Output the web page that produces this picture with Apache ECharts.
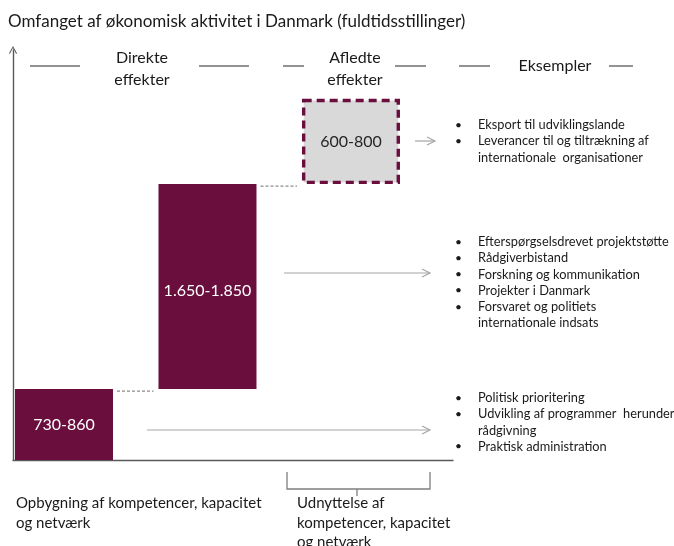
<!DOCTYPE html>
<html>
<head>
<meta charset="utf-8">
<script src="https://cdn.jsdelivr.net/npm/echarts@6/dist/echarts.min.js"></script>
<style>
  html, body { margin: 0; padding: 0; background: #fff; }
  #chart { width: 674px; height: 546px; }
</style>
</head>
<body>
<div id="chart"></div>
<script>
// trin i figuren (skematisk: højderne er aflæst fra billedet)
const stages = ['Opbygning', 'Direkte effekter', 'Afledte effekter'];
const rangeLabels = ['730-860', '1.650-1.850', '600-800'];
const stepHeights = [640, 1850, 770];

// eksempler til højre, et array pr. trin (\n = linjeskift i samme punkt)
const examplesAfledte = [
  'Eksport til udviklingslande',
  'Leverancer til og tiltrækning af\ninternationale  organisationer'
];
const examplesDirekte = [
  'Efterspørgselsdrevet projektstøtte',
  'Rådgiverbistand',
  'Forskning og kommunikation',
  'Projekter i Danmark',
  'Forsvaret og politiets\ninternationale indsats'
];
const examplesOpbygning = [
  'Politisk prioritering',
  'Udvikling af programmer  herunder\nrådgivning',
  'Praktisk administration'
];

const FONT = 'Lato, Carlito, "Noto Sans", sans-serif';
const BAR_COLOR = '#6a0f3d';
const BOX_FILL = '#d9d9d9';

// waterfall: hvert trin starter hvor det forrige slutter
let acc = 0;
const seriesData = stages.map((name, i) => {
  const item = [i, acc, stepHeights[i], rangeLabels[i]];
  acc += stepHeights[i];
  return item;
});

const chart = echarts.init(document.getElementById('chart'));

function txt(text, x, y, size, opts) {
  opts = opts || {};
  return {
    type: 'text',
    x: x,
    y: y,
    silent: true,
    style: {
      text: text,
      fill: opts.fill || '#1a1a1a',
      font: size + 'px ' + FONT,
      textAlign: opts.align || 'left',
      align: opts.align || 'left',
      textVerticalAlign: 'middle',
      verticalAlign: 'middle',
      lineHeight: opts.lineHeight || size * 1.25
    }
  };
}

function hline(x1, x2, y, color, width) {
  return {
    type: 'line',
    silent: true,
    shape: { x1: x1, y1: y, x2: x2, y2: y },
    style: { stroke: color || '#262626', lineWidth: width || 1 }
  };
}

function arrow(x1, x2, y) {
  return {
    type: 'group',
    silent: true,
    children: [
      hline(x1, x2, y, '#a6a6a6', 1.2),
      {
        type: 'polyline',
        shape: { points: [[x2 - 8, y - 4], [x2, y], [x2 - 8, y + 4]] },
        style: { stroke: '#a6a6a6', lineWidth: 1.2, fill: null }
      }
    ]
  };
}

function bulletList(items, top) {
  const out = [];
  let y = top;
  items.forEach((item) => {
    item.split('\n').forEach((line, k) => {
      if (k === 0) out.push(txt('•', 455, y, 12));
      out.push(txt(line, 478, y, 12.8));
      y += 16.2;
    });
  });
  return out;
}

const graphics = [
  txt('Omfanget af økonomisk aktivitet i Danmark (fuldtidsstillinger)', 8, 22, 17),

  // kolonneoverskrifter med streger
  hline(30, 80, 66), hline(199, 249, 66),
  txt('Direkte\neffekter', 142, 69, 16, { align: 'center', lineHeight: 22 }),
  hline(283, 304, 66), hline(395, 426, 66),
  txt('Afledte\neffekter', 355, 69, 16, { align: 'center', lineHeight: 22 }),
  hline(459, 490, 66), hline(609, 633, 66),
  txt('Eksempler', 555, 66, 16, { align: 'center' }),

  // pile mod eksemplerne
  arrow(415, 435, 141),
  arrow(284, 430, 273),
  arrow(147, 430, 430),

  // klamme under akse
  {
    type: 'polyline',
    silent: true,
    shape: { points: [[287, 472], [287, 489], [430, 489], [430, 472]] },
    style: { stroke: '#7f7f7f', lineWidth: 1.3, fill: null }
  },
  {
    type: 'line',
    silent: true,
    shape: { x1: 357, y1: 489, x2: 357, y2: 496 },
    style: { stroke: '#7f7f7f', lineWidth: 1.3 }
  },

  txt('Opbygning af kompetencer, kapacitet\nog netværk', 16, 513, 15, { lineHeight: 19.5 }),
  txt('Udnyttelse af\nkompetencer, kapacitet\nog netværk', 297, 523, 15, { lineHeight: 19.5 })
]
  .concat(bulletList(examplesAfledte, 125))
  .concat(bulletList(examplesDirekte, 242))
  .concat(bulletList(examplesOpbygning, 398));

const HALF = 0.3415;

chart.setOption({
  animation: false,
  backgroundColor: '#ffffff',
  grid: { left: 13, right: 221, top: 50, bottom: 86 },
  xAxis: {
    type: 'value',
    min: -0.3554,
    max: 2.711,
    axisLine: { show: true, onZero: false, lineStyle: { color: '#595959', width: 1.4 } },
    axisTick: { show: false },
    axisLabel: { show: false },
    splitLine: { show: false }
  },
  yAxis: {
    type: 'value',
    min: 0,
    max: 3700,
    axisLine: {
      show: true,
      onZero: false,
      symbol: ['none', 'path://M5,0 L10,9 L9,10 L5,2.4 L1,10 L0,9 Z'],
      symbolSize: [8, 10],
      lineStyle: { color: '#595959', width: 1.4 }
    },
    axisTick: { show: false },
    axisLabel: { show: false },
    splitLine: { show: false }
  },
  series: [
    {
      type: 'custom',
      silent: true,
      data: seriesData,
      renderItem: function (params, api) {
        const i = api.value(0);
        const base = api.value(1);
        const h = api.value(2);
        const tl = api.coord([i - HALF, base + h]);
        const br = api.coord([i + HALF, base]);
        const w = br[0] - tl[0];
        const ht = br[1] - tl[1];
        const isLast = params.dataIndex === stages.length - 1;
        const children = [];
        if (isLast) {
          children.push({
            type: 'rect',
            shape: { x: tl[0] + 1.7, y: tl[1] + 1.7, width: w - 3.4, height: ht - 3.4 },
            style: { fill: BOX_FILL, stroke: BAR_COLOR, lineWidth: 3.4, lineDash: [8, 5] }
          });
        } else {
          children.push({
            type: 'rect',
            shape: { x: tl[0], y: tl[1], width: w, height: ht },
            style: { fill: BAR_COLOR }
          });
          // stiplet forbindelse til næste trin
          const nx = api.coord([i + 1 - HALF, base + h]);
          children.push({
            type: 'line',
            shape: { x1: br[0] + 4, y1: tl[1] + 2, x2: nx[0] - 5, y2: tl[1] + 2 },
            style: { stroke: '#8c8c8c', lineWidth: 1.4, lineDash: [3, 2] }
          });
        }
        children.push({
          type: 'text',
          x: tl[0] + w / 2,
          y: tl[1] + ht / 2 + (params.dataIndex === 1 ? 4 : 0),
          style: {
            text: seriesData[params.dataIndex][3],
            fill: isLast ? '#262626' : '#ffffff',
            font: '16px ' + FONT,
            align: 'center',
            verticalAlign: 'middle'
          }
        });
        return { type: 'group', children: children };
      }
    }
  ],
  graphic: graphics
});
</script>
</body>
</html>
